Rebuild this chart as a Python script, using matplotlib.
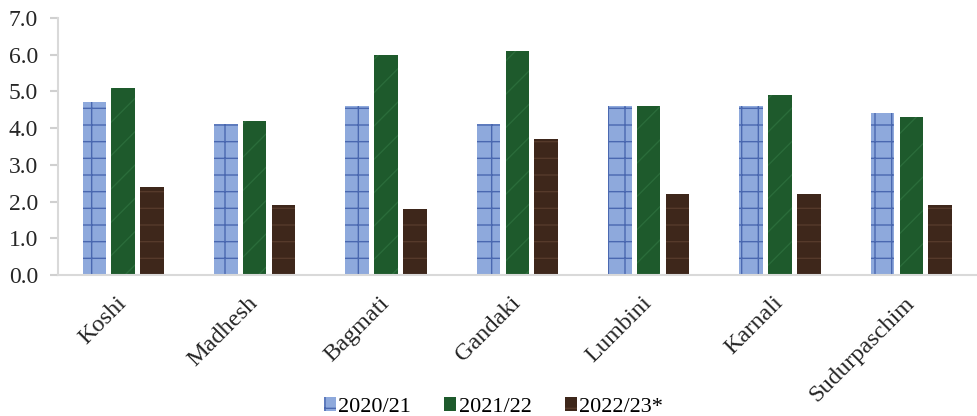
import numpy as np
import matplotlib.pyplot as plt

provinces = ["Koshi", "Madhesh", "Bagmati", "Gandaki", "Lumbini", "Karnali", "Sudurpaschim"]
series_names = ["2020/21", "2021/22", "2022/23*"]
v2020 = [4.7, 4.1, 4.6, 4.1, 4.6, 4.6, 4.4]
v2021 = [5.1, 4.2, 6.0, 6.1, 4.6, 4.9, 4.3]
v2022 = [2.4, 1.9, 1.8, 3.7, 2.2, 2.2, 1.9]

plt.rcParams["font.family"] = ["Liberation Serif", "DejaVu Serif"]
plt.rcParams["hatch.linewidth"] = 1.0

fig = plt.figure(figsize=(9.77, 4.16), dpi=100)
ax = fig.add_axes([0.059, 0.339, 0.941, 0.618])

x = np.arange(len(provinces))
w = 0.18
step = 0.22
styles = [
    dict(color="#8ea9dc", edgecolor="#4a68b0", hatch="+"),
    dict(color="#1e5a2c", edgecolor="#2a6c3a", hatch="/"),
    dict(color="#3e271b", edgecolor="#563a2b", hatch="-"),
]
for i, (vals, name) in enumerate(zip([v2020, v2021, v2022], series_names)):
    ax.bar(x + (i - 1) * step, vals, width=w, label=name, linewidth=0, **styles[i])

ax.set_xlim(-0.5, len(provinces) - 0.5)
ax.set_ylim(0, 7)
ax.set_yticks(np.arange(0, 7.1, 1.0))
ax.set_yticklabels([f"{t:.1f}" for t in np.arange(0, 7.1, 1.0)], fontsize=17, color="#262626")
ax.set_xticks(x)
ax.set_xticklabels(provinces, rotation=45, ha="right", va="center", rotation_mode="anchor",
                   fontsize=17.5, color="#262626")
ax.tick_params(axis="x", length=0, pad=18)
ax.tick_params(axis="y", length=6, color="#d0d0d0", width=1.5, pad=8)

for s in ["top", "right"]:
    ax.spines[s].set_visible(False)
for s in ["left", "bottom"]:
    ax.spines[s].set_color("#d9d9d9")
    ax.spines[s].set_linewidth(1.5)

fig.legend(loc="lower center", bbox_to_anchor=(0.505, -0.05), ncol=3, frameon=False,
           fontsize=16, handlelength=0.55, handleheight=0.55, handletextpad=0.1, columnspacing=1.5)

fig.savefig("out.png", dpi=100)
